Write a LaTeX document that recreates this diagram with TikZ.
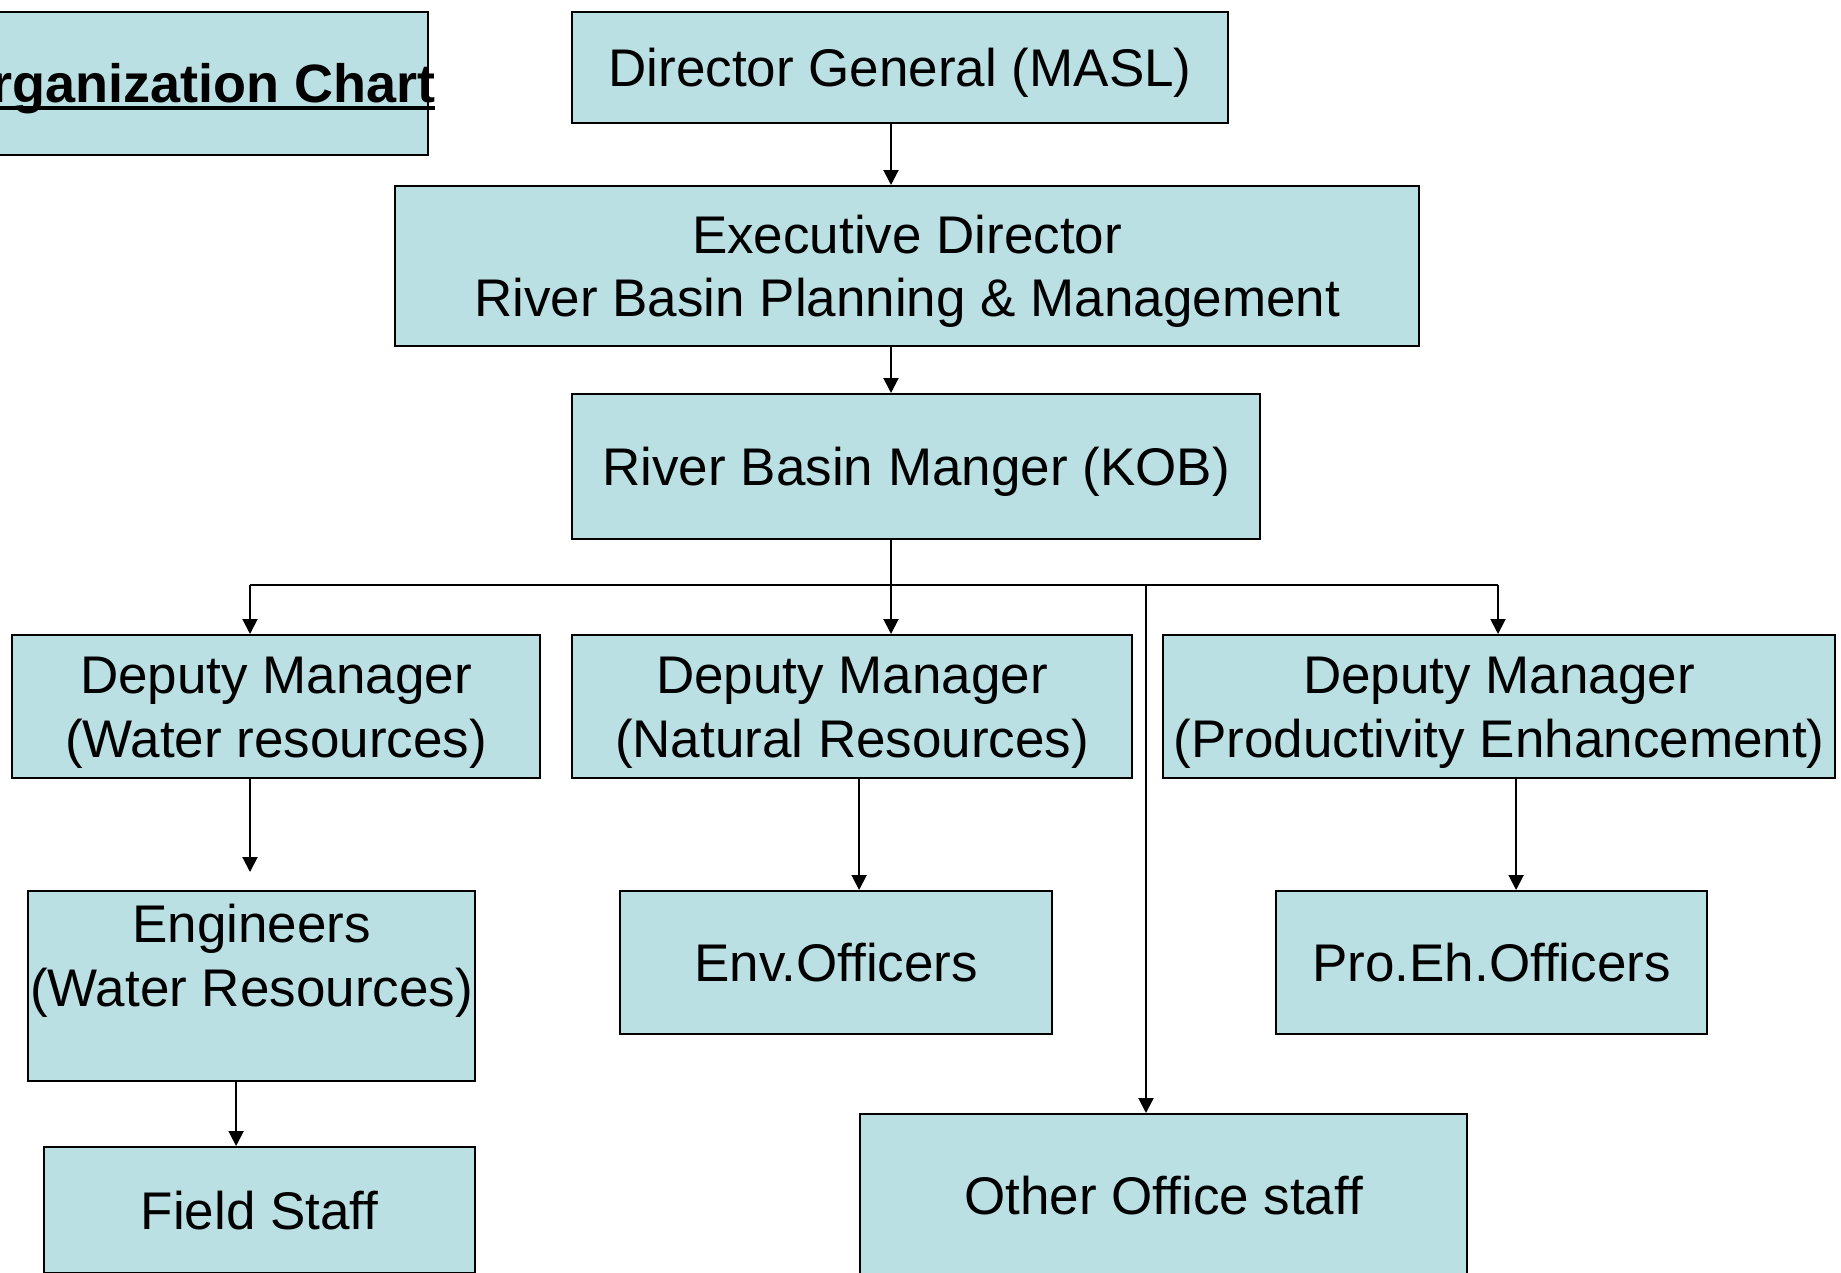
\documentclass[tikz,border=0pt]{standalone}
\usepackage{fontspec}
\setmainfont{Liberation Sans}
\usepackage{tikz}
\usetikzlibrary{positioning, arrows.meta, calc}

\definecolor{orgfill}{HTML}{BBE0E3}
% thick underline for the title
\newcommand{\thickul}[1]{\setbox0\hbox{#1}\rlap{\rule[-7pt]{\wd0}{3.5pt}}\box0}

\begin{document}
\begin{tikzpicture}[x=1pt, y=-1pt,
        orgbox/.style={draw=black, line width=2.2pt, fill=orgfill, anchor=north west,
            align=center, inner sep=0pt, font=\fontsize{53}{63.5}\selectfont},
        oneline/.style={text height=38pt, text depth=0pt},
        twoline/.style={text height=101.5pt, text depth=0pt},
        link/.style={line width=2pt, -{Triangle[width=15pt,length=15pt]}},
        bar/.style={line width=2pt}]

    % page frame, what sticks out is cut off
    \clip (0,0) rectangle (1841,1272);

    % title
    \node[orgbox, minimum width=472pt, minimum height=143pt, text height=38.7pt, text depth=0pt,
          font=\fontsize{54}{64}\selectfont\bfseries] (title) at (-45,11)
        {\makebox[400pt]{\thickul{Organization Chart}}};

    % head of the tree
    \node[orgbox, oneline, minimum width=656pt, minimum height=111pt] (dg) at (571,11)
        {Director General (MASL)};
    \node[orgbox, twoline, minimum width=1024pt, minimum height=160pt] (ed) at (394,185)
        {Executive Director\\River Basin Planning \& Management};
    \node[orgbox, oneline, minimum width=688pt, minimum height=145pt] (rbm) at (571,393)
        {River Basin Manger (KOB)};

    % deputies
    \node[orgbox, twoline, minimum width=528pt, minimum height=143pt] (dmw) at (11,634)
        {Deputy Manager\\(Water resources)};
    \node[orgbox, twoline, minimum width=560pt, minimum height=143pt] (dmn) at (571,634)
        {Deputy Manager\\(Natural Resources)};
    \node[orgbox, twoline, minimum width=672pt, minimum height=143pt] (dmp) at (1162,634)
        {Deputy Manager\\(Productivity Enhancement)};

    % staff
    \node[orgbox, twoline, minimum width=447pt, minimum height=190pt, text depth=61pt] (eng) at (27,890)
        {Engineers\\(Water Resources)};
    \node[orgbox, oneline, minimum width=432pt, minimum height=143pt] (env) at (619,890)
        {Env.Officers};
    \node[orgbox, oneline, minimum width=431pt, minimum height=143pt] (pro) at (1275,890)
        {Pro.Eh.Officers};
    \node[orgbox, oneline, minimum width=431pt, minimum height=126pt] (field) at (43,1146)
        {Field Staff};
    \node[orgbox, oneline, minimum width=607pt, minimum height=163pt] (oos) at (859,1113)
        {Other Office staff};

    % branch line below the river basin manager
    \coordinate (bus) at (891,585);
    \coordinate (busL) at (250,585);
    \coordinate (busR) at (1498,585);
    \coordinate (busO) at (1146,585);

    \draw[link] (dg.south -| bus) -- (ed.north -| bus);
    \draw[link] (ed.south -| bus) -- (rbm.north -| bus);
    \draw[bar] (rbm.south -| bus) -- (bus);
    \draw[bar] (busL) -- (busR);
    \draw[link] (busL) -- (dmw.north -| busL);
    \draw[link] (bus) -- (dmn.north -| bus);
    \draw[link] (busR) -- (dmp.north -| busR);
    \draw[link] (busO) -- (oos.north -| busO);

    % down to the staff
    \draw[link, shorten >=18pt] (dmw.south -| busL) -- (eng.north -| busL);
    \draw[link] ([xshift=23pt]env.north |- dmn.south) -- ([xshift=23pt]env.north);
    \draw[link] ([xshift=24.5pt]pro.north |- dmp.south) -- ([xshift=24.5pt]pro.north);
    \draw[link] ([xshift=-23.5pt]field.north |- eng.south) -- ([xshift=-23.5pt]field.north);
\end{tikzpicture}
\end{document}
